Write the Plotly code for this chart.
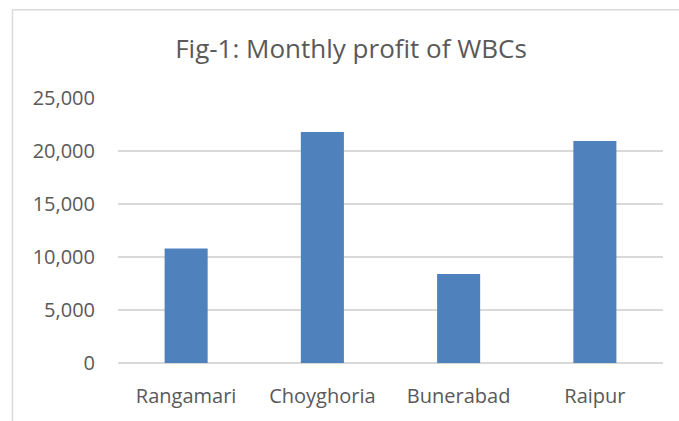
import plotly.graph_objects as go

categories = ["Rangamari", "Choyghoria", "Bunerabad", "Raipur"]
profits = [10800, 21800, 8400, 20950]
y_ticks = [0, 5000, 10000, 15000, 20000, 25000]
y_tick_labels = ["0", "5,000", "10,000", "15,000", "20,000", "25,000"]

W, H = 679, 421
L, R, T, B = 118, 16, 98, 56
pw = W - L - R
ph = H - T - B

def px_x(x):
    return (x - L) / pw

def px_y(y):
    return (H - B - y) / ph

fig = go.Figure(go.Bar(
    x=categories, y=profits,
    marker=dict(color="#4F81BD", line=dict(width=0)),
    hoverinfo="x+y",
))

font = "Open Sans, Noto Sans, sans-serif"
grey = "#595959"
grid = "#D9D9D9"

fig.update_layout(
    width=W, height=H,
    margin=dict(l=L, r=R, t=T, b=B, pad=0),
    paper_bgcolor="white", plot_bgcolor="white",
    bargap=0.684,
    showlegend=False,
    font=dict(family=font, color=grey, size=20),
    title=dict(
        text="Fig-1: Monthly profit of WBCs",
        font=dict(family=font, size=26, color=grey),
        xref="paper", x=px_x(351), xanchor="center",
        yref="container", y=1 - 49 / H, yanchor="middle",
    ),
    xaxis=dict(
        showgrid=False, showline=False, zeroline=False,
        ticks="", tickfont=dict(size=20, color=grey),
        ticklabelstandoff=19,
    ),
    yaxis=dict(
        range=[0, 25000],
        tickvals=y_ticks, ticktext=y_tick_labels,
        showgrid=True, gridcolor=grid, gridwidth=2,
        zeroline=True, zerolinecolor=grid, zerolinewidth=2,
        showline=False, ticks="",
        tickfont=dict(size=20, color=grey),
        ticklabelstandoff=22,
        fixedrange=True,
    ),
    shapes=[
        dict(type="line", xref="paper", yref="paper",
             x0=px_x(12.5), x1=px_x(12.5), y0=px_y(9), y1=px_y(430),
             line=dict(color=grid, width=1.5)),
        dict(type="line", xref="paper", yref="paper",
             x0=px_x(12.5), x1=px_x(690), y0=px_y(9), y1=px_y(9),
             line=dict(color=grid, width=1.5)),
    ],
)

fig.write_html(
    "out.html",
    config={"displayModeBar": False},
    post_script="document.body.style.margin='0';document.body.style.overflow='hidden';",
)
